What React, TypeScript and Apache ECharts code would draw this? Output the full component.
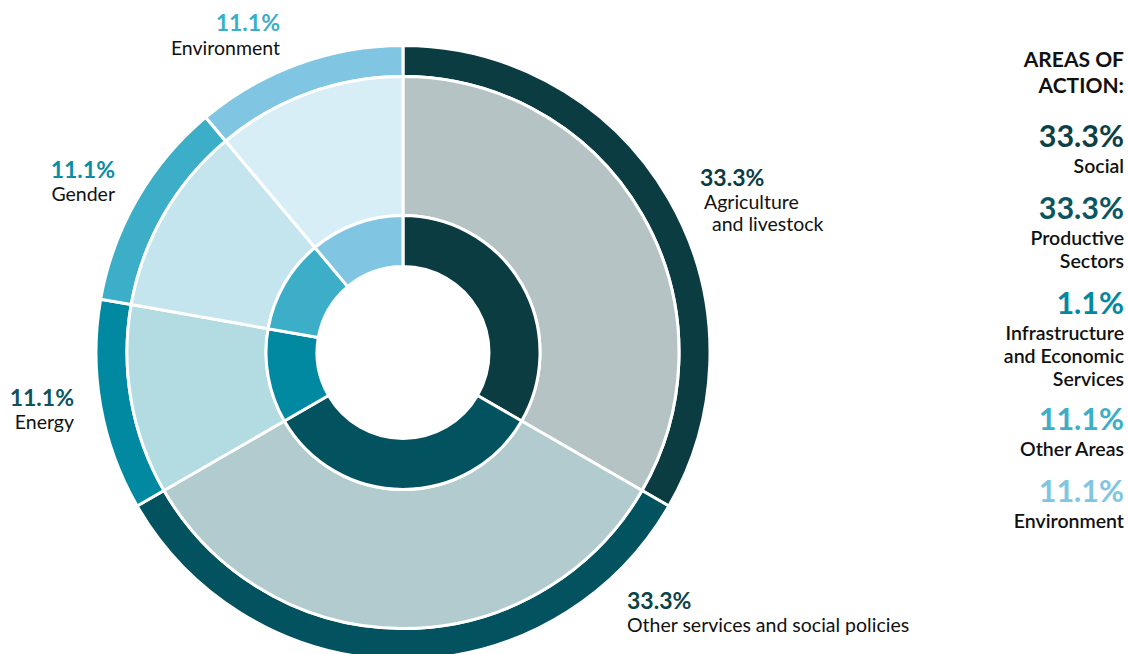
import React, { useEffect, useRef } from "react";
import * as echarts from "echarts";

// ---- data ----
const sectorNames = ["Agriculture and livestock", "Other services and social policies", "Energy", "Gender", "Environment"];
const sectorShares = [33.3, 33.3, 11.1, 11.1, 11.1];
const sectorLabels = ["33.3%", "33.3%", "11.1%", "11.1%", "11.1%"];

const areaNames = ["Productive Sectors", "Social", "Infrastructure and Economic Services", "Other Areas", "Environment"];
const areaShares = [33.3, 33.3, 11.1, 11.1, 11.1];

const legendTitle = ["AREAS OF", "ACTION:"];
const legendValues = ["33.3%", "33.3%", "1.1%", "11.1%", "11.1%"];
const legendNames = [["Social"], ["Productive", "Sectors"], ["Infrastructure", "and Economic", "Services"], ["Other Areas"], ["Environment"]];

// ---- styles ----
const darkColors = ["#0a3c42", "#02525f", "#0089a0", "#3caec7", "#80c6e3"];
const lightColors = ["#b5c3c4", "#b1cbcf", "#b2dce2", "#c4e5ee", "#d7eef6"];
const legendColors = ["#0d4045", "#0b5561", "#0089a0", "#3caec7", "#80c6e3"];
const labelPctColors = ["#0a3c42", "#0d4347", "#0b5460", "#0a8ea3", "#3caec7"];
const FONT = "Lato, 'Open Sans', sans-serif";

// label layout (positions for each sector label: pct line + name lines)
const labelLayout = [
  { align: "left", pct: [700, 177], lines: [["Agriculture", 704, 201], ["and livestock", 712, 223]] },
  { align: "left", pct: [627, 600], lines: [["Other services and social policies", 627, 624]] },
  { align: "right", pct: [74, 397], lines: [["Energy", 74, 421]] },
  { align: "right", pct: [115, 169], lines: [["Gender", 115, 193]] },
  { align: "right", pct: [280, 22], lines: [["Environment", 280, 47]] },
];

function txt(text: string, x: number, y: number, size: number, weight: string, fill: string, align: string) {
  return {
    type: "text",
    x,
    y,
    silent: true,
    style: {
      text,
      font: `${weight} ${size}px ${FONT}`,
      lineHeight: Math.round(size * 0.95),
      fill,
      textAlign: align,
      align,
      textVerticalAlign: "middle",
      verticalAlign: "middle",
    },
  };
}

export default function App() {
  const ref = useRef<HTMLDivElement>(null);
  useEffect(() => {
    if (!ref.current) return;
    const chart = echarts.init(ref.current, null, { renderer: "svg" });
    const center = [403, 352.5];

    const graphics: any[] = [];
    labelLayout.forEach((l, i) => {
      graphics.push(txt(sectorLabels[i], l.pct[0], l.pct[1], 23, "bold", labelPctColors[i], l.align));
      l.lines.forEach((ln: any) => {
        graphics.push(txt(ln[0], ln[1], ln[2], 19.5, "normal", "#111111", l.align));
      });
    });

    // legend
    const RX = 1124;
    graphics.push(txt(legendTitle[0], RX, 58, 21, "bold", "#111111", "right"));
    graphics.push(txt(legendTitle[1], RX, 84, 21, "bold", "#111111", "right"));
    const legendY = [137, 209, 304, 420, 492];
    legendValues.forEach((v, i) => {
      const y0 = legendY[i];
      graphics.push(txt(v, RX, y0 - 2, 30.5, "bold", legendColors[i], "right"));
      legendNames[i].forEach((n, j) => {
        graphics.push(txt(n, RX, y0 + 28 + j * 23, 19.5, "600", "#111111", "right"));
      });
    });

    const common = {
      type: "pie",
      center,
      startAngle: 90,
      clockwise: true,
      silent: true,
      label: { show: false },
      labelLine: { show: false },
      emphasis: { disabled: true },
      animation: false,
    };

    chart.setOption({
      animation: false,
      series: [
        {
          ...common,
          name: "outer",
          radius: [276, 307],
          itemStyle: { borderColor: "#ffffff", borderWidth: 3 },
          data: sectorNames.map((n, i) => ({ name: n, value: sectorShares[i], itemStyle: { color: darkColors[i] } })),
        },
        {
          ...common,
          name: "middle",
          radius: [137, 276],
          itemStyle: { borderColor: "#ffffff", borderWidth: 3 },
          data: sectorNames.map((n, i) => ({ name: n, value: sectorShares[i], itemStyle: { color: lightColors[i] } })),
        },
        {
          ...common,
          name: "inner",
          radius: [86, 137],
          itemStyle: { borderColor: "#ffffff", borderWidth: 3 },
          data: areaNames.map((n, i) => ({ name: n, value: areaShares[i], itemStyle: { color: darkColors[i] } })),
        },
      ],
      graphic: { elements: graphics },
    });
    return () => chart.dispose();
  }, []);

  return (
    <div
      ref={ref}
      style={{ position: "absolute", left: 0, top: 0, width: 1128, height: 654, background: "#ffffff" }}
    />
  );
}
